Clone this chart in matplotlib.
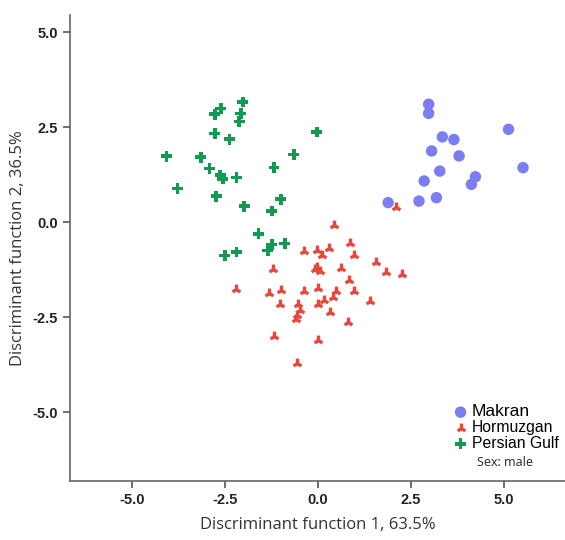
import matplotlib
matplotlib.use("Agg")
import matplotlib.pyplot as plt

makran_x = [2.98, 2.98, 3.35, 3.66, 3.06, 3.80, 5.13, 5.52, 3.28, 4.24, 4.13, 2.86, 3.19, 2.72, 1.89]
makran_y = [3.11, 2.87, 2.25, 2.18, 1.88, 1.75, 2.45, 1.44, 1.35, 1.20, 1.00, 1.09, 0.65, 0.56, 0.52]

hormuzgan_x = [0.44, 2.10, 0.86, -0.37, -0.03, 0.30, 0.10, 0.98, 1.56, -1.22, -0.03, 0.05, -0.08,
               0.61, 1.83, 2.27, 0.83, -2.20, -1.32, -0.99, -0.38, 0.01, 0.48, 0.98, 0.41, 0.16,
               0.01, 1.40, -1.02, -0.53, -0.48, -0.56, -0.59, 0.32, 0.81, -1.17, 0.01, -0.55]
hormuzgan_y = [-0.08, 0.40, -0.54, -0.76, -0.74, -0.68, -0.87, -0.87, -1.05, -1.22, -1.18, -1.27, -1.22,
               -1.21, -1.31, -1.37, -1.51, -1.75, -1.85, -1.79, -1.81, -1.72, -1.81, -1.81, -1.97, -2.04,
               -2.16, -2.08, -2.16, -2.15, -2.30, -2.45, -2.54, -2.37, -2.63, -2.98, -3.11, -3.71]

gulf_x = [-2.02, -2.61, -2.77, -2.07, -2.12, -2.77, -2.38, -4.07, -3.15, -0.03, -0.65, -2.92, -2.63,
          -2.56, -2.19, -1.18, -3.78, -2.74, -1.98, -1.00, -1.24, -1.60, -1.24, -1.35, -0.89, -2.19, -2.50]
gulf_y = [3.17, 3.00, 2.85, 2.87, 2.66, 2.34, 2.19, 1.74, 1.72, 2.38, 1.79, 1.42, 1.24,
          1.15, 1.18, 1.44, 0.89, 0.69, 0.43, 0.61, 0.30, -0.30, -0.58, -0.74, -0.56, -0.78, -0.87]

ticks = [-5.0, -2.5, 0.0, 2.5, 5.0]
tick_labels = ["-5.0", "-2.5", "0.0", "2.5", "5.0"]

fig = plt.figure(figsize=(5.65, 5.4), dpi=100)
ax = fig.add_axes([70/565, 1-481/540, 1-70/565, (481-15)/540])

blue = "#7B7EF2"
red = "#E8473D"
green = "#129A52"

ax.scatter(makran_x, makran_y, marker="o", s=68, color=blue, edgecolors="none", label="Makran", zorder=3)
ax.scatter(hormuzgan_x, hormuzgan_y, marker="2", s=50, color=red, linewidths=2.4, label="Hormuzgan", zorder=3)
ax.scatter(gulf_x, gulf_y, marker="P", s=62, color=green, edgecolors="none", label="Persian Gulf", zorder=3)

ax.set_xlim(-6.67, 6.65)
ax.set_ylim(-6.81, 5.46)
ax.set_xticks(ticks)
ax.set_xticklabels(tick_labels)
ax.set_yticks(ticks)
ax.set_yticklabels(tick_labels)

for s in ["top", "right"]:
    ax.spines[s].set_visible(False)
for s in ["left", "bottom"]:
    ax.spines[s].set_color("#666666")
    ax.spines[s].set_linewidth(1.2)

ax.tick_params(direction="out", length=5, width=1.2, color="#555555", labelsize=10.5, labelcolor="#222222")
for lab in ax.get_xticklabels() + ax.get_yticklabels():
    lab.set_fontweight("bold")
    lab.set_fontfamily("Liberation Sans")

ax.set_xlabel("Discriminant function 1, 63.5%", fontsize=12, color="#333333", family="Open Sans", labelpad=7)
ax.set_ylabel("Discriminant function 2, 36.5%", fontsize=12, color="#333333", family="Open Sans", labelpad=5)

leg = ax.legend(loc="upper left", bbox_to_anchor=(448/565, 1-398/540), bbox_transform=fig.transFigure,
                frameon=False, prop={"family": "Liberation Sans", "size": 11.3}, handletextpad=0.3,
                labelspacing=0.05, borderaxespad=0.0, borderpad=0.4, handlelength=0.8)
leg.get_texts()[0].set_fontsize(12.5)
fig.text(477/565, 1-463/540, "Sex: male", fontsize=9, family="Open Sans", color="#222222",
         ha="left", va="center")

fig.savefig("out.png", dpi=100)
